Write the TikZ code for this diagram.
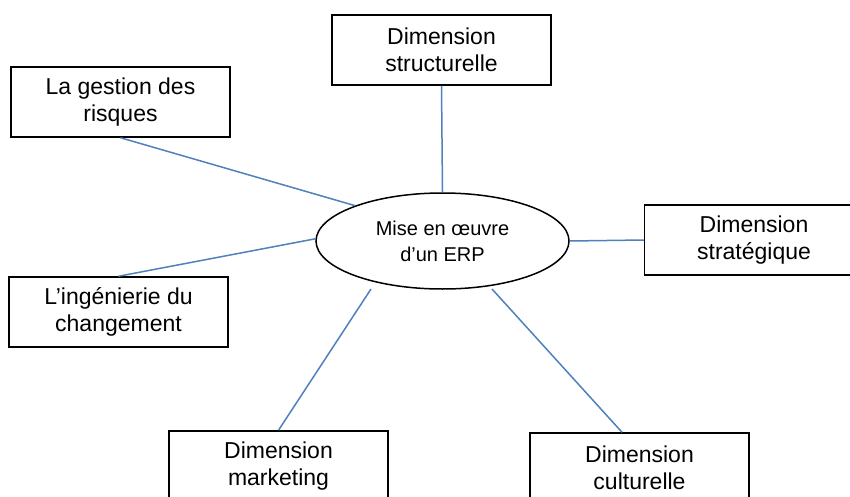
\documentclass[tikz,border=0pt]{standalone}
\usepackage{fontspec}
\setmainfont{Liberation Sans}
\usetikzlibrary{shapes.geometric}
\definecolor{linkblue}{RGB}{79,129,189}
\begin{document}
\begin{tikzpicture}[x=1pt,y=-1pt,
  box/.style={draw=black, line width=1.5pt, rectangle, minimum width=219pt, minimum height=70pt,
    inner sep=0pt, align=center, font=\fontsize{23}{27}\selectfont},
  hub/.style={ellipse, draw=black, line width=1.5pt, fill=white, minimum width=253pt, minimum height=96pt,
    inner sep=0pt, align=center, font=\fontsize{20}{26}\selectfont},
  link/.style={draw=linkblue, line width=1.5pt}]
\useasboundingbox (0,0) rectangle (850,497);
\clip (0,0) rectangle (850,497);
\fill[white] (0,0) rectangle (850,497);

\node[box] (struct) at (441.5,50) {Dimension\\structurelle};
\node[box] (risk) at (120.5,102) {La gestion des\\risques};
\node[box] (chg) at (118.5,312) {L’ingénierie du\\changement};
\node[box] (strat) at (754,240) {Dimension\\stratégique};
\node[box] (mkt) at (278.5,466) {Dimension\\marketing};
\node[box] (cult) at (639.5,468) {Dimension\\culturelle};
\node[hub] (erp) at (442.5,241) {Mise en œuvre\\d’un ERP};

\coordinate (mktend) at (371,289);
\coordinate (cultend) at (492,289);

\draw[link] (struct.south) -- (erp.north);
\draw[link] (risk.south) -- (erp.158);
\draw[link] (chg.north) -- (erp.179);
\draw[link] (erp.east) -- (strat.west);
\draw[link] (mkt.north) -- (mktend);
\draw[link] ([xshift=-17.5pt]cult.north) -- (cultend);
\end{tikzpicture}
\end{document}
